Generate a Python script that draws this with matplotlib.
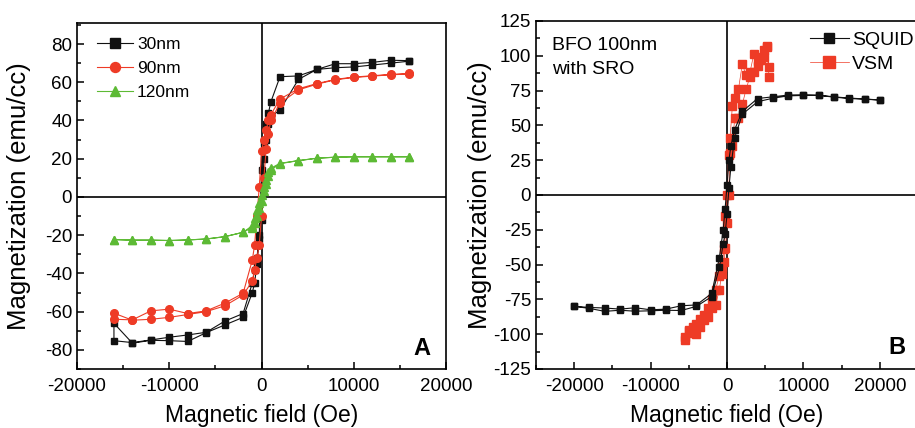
import matplotlib
matplotlib.use("Agg")
import matplotlib.pyplot as plt
from matplotlib import font_manager
from matplotlib.ticker import MultipleLocator

plt.rcParams['font.family'] = ['Liberation Sans', 'DejaVu Sans']
plt.rcParams['axes.unicode_minus'] = False

names = {f.name for f in font_manager.fontManager.ttflist}
if 'Liberation Sans Narrow' in names:
    narrow, tick_fs, note_fs = 'Liberation Sans Narrow', 15.5, 15.5
else:
    narrow, tick_fs, note_fs = 'Liberation Sans', 13.5, 14

# ---- panel A: thickness series, descending then ascending branch ----
x_desc = [16000, 14000, 12000, 10000, 8000, 6000, 4000, 2000, 1000, 750, 500, 250, 0,
          -250, -500, -750, -1000, -2000, -4000, -6000, -8000, -10000, -12000, -14000, -16000]
x_asc = x_desc[::-1]

m30_desc = [71.3, 71.5, 70.4, 69.7, 69.7, 66.7, 63.3, 62.9, 49.6, 44, 38, 28, 14,
            -20, -32, -38, -45, -61, -65, -70.8, -72.2, -73.4, -74.8, -76.2, -75.2]
m30_asc = [-66.1, -76.5, -75, -75.2, -75.6, -71, -67, -63, -50, -45, -35, -22, -12,
           20, 30, 38, 42, 45.5, 61.5, 66.7, 67.6, 68, 69, 70, 71]

m90_desc = [64.6, 64.1, 63.4, 62.7, 61.5, 59.3, 56.6, 51.2, 43, 40, 35, 30, 24,
            5, -10, -25, -33, -50.4, -55.6, -59.6, -61, -58.7, -59.6, -64.3, -64]
m90_asc = [-60.8, -64.5, -64, -63, -61.5, -60, -57, -51.3, -44, -38, -32, -25, -10,
           10, 25, 33, 40, 49, 56, 59, 61.3, 62.5, 63.2, 63.9, 64.3]

m120_desc = [21, 21, 21, 21, 20.8, 20.3, 19, 17.6, 15, 13, 9, 5, 1,
             -3, -7, -11, -15, -18.5, -20.8, -22, -22.5, -22.8, -22.6, -22.6, -22.3]
m120_asc = [-22.3, -22.6, -22.6, -22.8, -22.5, -22, -20.8, -18.5, -16, -13.5, -10, -6, -2,
            3, 7, 11, 14, 17.4, 19, 20.2, 20.8, 21, 21, 21, 21]

# ---- panel B: SQUID vs VSM ----
sq_desc_x = [20000, 18000, 16000, 14000, 12000, 10000, 8000, 6000, 4000, 2000, 1000, 500, 250, 0,
             -250, -500, -1000, -2000, -4000, -6000, -8000, -10000, -12000, -14000, -16000, -18000, -20000]
sq_asc_x = sq_desc_x[::-1]
sq_desc = [68.2, 69, 69.6, 70.5, 71.7, 72, 71.8, 70.5, 69.3, 60, 47, 35, 25, 7,
           -10, -25, -45, -70.7, -79, -79.6, -82, -82.5, -81, -82, -81.2, -80.8, -80]
sq_asc = [-80, -81.5, -83.6, -82.8, -83.5, -83.2, -82.8, -83, -80, -73, -52, -35, -28, -14,
          5, 20, 41, 58, 67, 69.5, 71.2, 71.5, 71.5, 70.3, 69.3, 68.8, 68.2]

vsm_desc_x = [5500, 5200, 4900, 4500, 4000, 3500, 3000, 2500, 2000, 1500, 1000, 700, 400, 200, 0,
              -200, -400, -700, -1000, -1500, -2000, -2500, -3000, -3500, -4000, -4500, -5000, -5500]
vsm_asc_x = vsm_desc_x[::-1]
vsm_desc = [92, 107, 104, 99, 96, 101, 88, 86, 94, 76, 70, 64, 41, 29, 0,
            -15, -39, -52, -58, -68, -75, -81, -86, -89, -93, -95, -98, -102]
vsm_asc = [-104, -97, -99, -100, -95, -90, -88, -81, -79, -68, -57, -48, -38, -20, 0,
           30, 35, 55, 55, 65, 76, 85, 88, 93, 97, 99, 106, 85]

black = '#111111'
red = '#ee3b26'
green = '#5dba35'

fig = plt.figure(figsize=(9.15, 4.28), dpi=100)
axA = fig.add_axes([0.0842, 0.1379, 0.4033, 0.8084])
axB = fig.add_axes([0.5858, 0.1379, 0.4175, 0.8131])


def style(ax):
    for s in ax.spines.values():
        s.set_linewidth(1.2)
    ax.axhline(0, color='black', lw=1.2, zorder=1)
    ax.axvline(0, color='black', lw=1.2, zorder=1)
    ax.tick_params(which='both', direction='in', width=1.1, labelsize=tick_fs,
                   labelfontfamily=narrow)
    ax.tick_params(which='major', length=5)
    ax.tick_params(which='minor', length=3)
    ax.tick_params(axis='y', pad=3.5)
    ax.tick_params(axis='x', pad=6.5)
    ax.set_xlabel('Magnetic field (Oe)', fontsize=16.5)
    ax.set_ylabel('Magnetization (emu/cc)', fontsize=18.5)


style(axA)
axA.plot(x_desc + x_asc, m30_desc + m30_asc, '-s', color=black, lw=0.8, ms=5,
         mfc=black, mec=black, label='30nm', zorder=3)
axA.plot(x_desc + x_asc, m90_desc + m90_asc, '-o', color=red, lw=0.8, ms=5.5,
         mfc=red, mec=red, label='90nm', zorder=4)
axA.plot(x_desc + x_asc, m120_desc + m120_asc, '-^', color=green, lw=0.8, ms=6,
         mfc=green, mec=green, label='120nm', zorder=5)
axA.set_xlim(-20000, 20000)
axA.set_ylim(-90, 91)
axA.xaxis.set_major_locator(MultipleLocator(10000))
axA.xaxis.set_minor_locator(MultipleLocator(5000))
axA.yaxis.set_major_locator(MultipleLocator(20))
axA.yaxis.set_minor_locator(MultipleLocator(10))
axA.xaxis.set_label_coords(0.5, -0.101)
axA.yaxis.set_label_coords(-0.125, 0.5)
axA.legend(loc='upper left', bbox_to_anchor=(0.054, 0.96), frameon=False,
           fontsize=12.5, handlelength=2.1, handletextpad=0.2, labelspacing=0.52,
           borderpad=0, borderaxespad=0, markerscale=1.3)
axA.text(0.935, 0.04, 'A', transform=axA.transAxes, fontsize=17, fontweight='bold',
         ha='center', va='baseline')

style(axB)
axB.plot(sq_desc_x + sq_asc_x, sq_desc + sq_asc, '-s', color=black, lw=0.8, ms=5,
         mfc=black, mec=black, label='SQUID', zorder=4)
axB.plot(vsm_desc_x + vsm_asc_x, vsm_desc + vsm_asc, '-s', color=red, lw=0.5, ms=5.5,
         mfc=red, mec=red, label='VSM', zorder=3)
axB.set_xlim(-25000, 25000)
axB.set_ylim(-125, 125)
axB.xaxis.set_major_locator(MultipleLocator(10000))
axB.xaxis.set_minor_locator(MultipleLocator(5000))
axB.yaxis.set_major_locator(MultipleLocator(25))
axB.yaxis.set_minor_locator(MultipleLocator(12.5))
axB.xaxis.set_label_coords(0.5, -0.101)
axB.yaxis.set_label_coords(-0.115, 0.5)
axB.legend(loc='upper left', bbox_to_anchor=(0.717, 0.97), frameon=False,
           prop={'family': narrow, 'size': note_fs}, handlelength=2.0,
           handletextpad=0.15, labelspacing=0.32, borderpad=0, borderaxespad=0,
           markerscale=1.5)
axB.text(0.042, 0.955, 'BFO 100nm\nwith SRO', transform=axB.transAxes, fontsize=note_fs,
         family=narrow, ha='left', va='top', linespacing=1.55)
axB.text(0.945, 0.043, 'B', transform=axB.transAxes, fontsize=17, fontweight='bold',
         ha='center', va='baseline')

fig.savefig('out.png', dpi=100)
